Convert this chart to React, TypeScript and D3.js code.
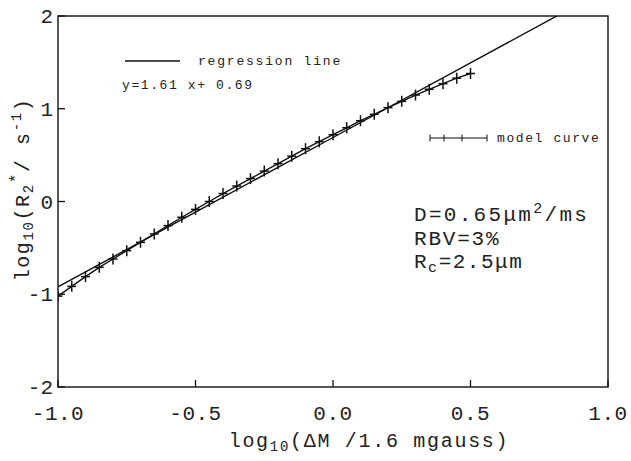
import React from "react";
import * as d3 from "d3";

const modelX = [-1.0, -0.95, -0.9, -0.85, -0.8, -0.75, -0.7, -0.65, -0.6, -0.55, -0.5, -0.45, -0.4, -0.35, -0.3, -0.25, -0.2, -0.15, -0.1, -0.05, 0.0, 0.05, 0.1, 0.15, 0.2, 0.25, 0.3, 0.35, 0.4, 0.45, 0.5];
const modelY = [-1.02, -0.915, -0.81, -0.71, -0.62, -0.53, -0.44, -0.35, -0.26, -0.17, -0.085, 0.0, 0.086, 0.167, 0.247, 0.328, 0.408, 0.489, 0.569, 0.645, 0.72, 0.795, 0.871, 0.94, 1.012, 1.08, 1.148, 1.21, 1.27, 1.33, 1.38];
const regSlope = 1.61;
const regIntercept = 0.69;
const xTicks = [-1.0, -0.5, 0.0, 0.5, 1.0];
const xTickLabels = ["-1.0", "-0.5", "0.0", "0.5", "1.0"];
const yTicks = [-2, -1, 0, 1, 2];
const yTickLabels = ["-2", "-1", "0", "1", "2"];

const W = 631, H = 461;
const L = 58, R = 608, T = 16, B = 387;
const FONT = "'Liberation Mono', 'DejaVu Sans Mono', monospace";

export default function App() {
  const x = d3.scaleLinear().domain([-1, 1]).range([L, R]);
  const y = d3.scaleLinear().domain([-2, 2]).range([B, T]);
  const line = d3.line<number>().x((_, i) => x(modelX[i])).y((d) => y(d));
  const regX = d3.range(-1, 1.0001, 0.5);
  const regLine = d3.line<number>().x((d) => x(d)).y((d) => y(regSlope * d + regIntercept));
  const col = "#111";
  const tcol = "#222";
  return (
    <svg width={W} height={H} style={{ position: "absolute", left: 0, top: 0, background: "#fff" }}>
      <defs>
        <clipPath id="plot">
          <rect x={L} y={T} width={R - L} height={B - T} />
        </clipPath>
      </defs>
      <rect x={0} y={0} width={W} height={H} fill="#fff" />
      <rect x={L} y={T} width={R - L} height={B - T} fill="none" stroke={col} strokeWidth={1.4} />
      {xTicks.map((t, i) => (
        <g key={"xt" + i}>
          <line x1={x(t)} x2={x(t)} y1={B} y2={B - 7} stroke={col} strokeWidth={1.3} />
          <text x={x(t)} y={420} textAnchor="middle" fontFamily={FONT} fontSize={21} letterSpacing={0.5} fill={tcol}>{xTickLabels[i]}</text>
        </g>
      ))}
      {yTicks.map((t, i) => (
        <g key={"yt" + i}>
          <line x1={L} x2={L + 7} y1={y(t)} y2={y(t)} stroke={col} strokeWidth={1.3} />
          <text x={53} y={y(t) + 7} textAnchor="end" fontFamily={FONT} fontSize={21} fill={tcol}>{yTickLabels[i]}</text>
        </g>
      ))}
      <g clipPath="url(#plot)">
        <path d={regLine(regX) || ""} fill="none" stroke={col} strokeWidth={1.4} />
        <path d={line(modelY) || ""} fill="none" stroke={col} strokeWidth={1.4} />
        {modelY.map((v, i) => (
          <g key={"m" + i}>
            <line x1={x(modelX[i]) - 4.5} x2={x(modelX[i]) + 4.5} y1={y(v)} y2={y(v)} stroke={col} strokeWidth={1.5} />
            <line x1={x(modelX[i])} x2={x(modelX[i])} y1={y(v) - 5.5} y2={y(v) + 5.5} stroke={col} strokeWidth={1.5} />
          </g>
        ))}
      </g>
      {/* legend */}
      <line x1={125} x2={180} y1={61} y2={61} stroke={col} strokeWidth={1.4} />
      <text x={198} y={65} fontFamily={FONT} fontSize={13} letterSpacing={1.8} fill={tcol}>regression line</text>
      <text x={122} y={89} fontFamily={FONT} fontSize={13} letterSpacing={1.6} fill={tcol}>y=1.61 x+ 0.69</text>
      <line x1={430} x2={487} y1={138} y2={138} stroke={col} strokeWidth={1.2} />
      {[430, 444, 462, 487].map((px, i) => (
        <line key={"lt" + i} x1={px} x2={px} y1={134.5} y2={141.5} stroke={col} strokeWidth={1} />
      ))}
      <text x={497} y={142} fontFamily={FONT} fontSize={13} letterSpacing={1.6} fill={tcol}>model curve</text>
      <text x={414} y={221} fontFamily={FONT} fontSize={21} letterSpacing={2.3} fill={tcol}>
        D=0.65μm<tspan dy={-8} fontSize={15}>2</tspan><tspan dy={8}>/ms</tspan>
      </text>
      <text x={414} y={245} fontFamily={FONT} fontSize={21} letterSpacing={1.8} fill={tcol}>RBV=3%</text>
      <text x={414} y={268} fontFamily={FONT} fontSize={21} letterSpacing={1.5} fill={tcol}>
        R<tspan dy={4} fontSize={15}>c</tspan><tspan dy={-4}>=2.5μm</tspan>
      </text>
      {/* x axis label */}
      <text x={(L + R) / 2 + 36} y={447} textAnchor="middle" fontFamily={FONT} fontSize={20} letterSpacing={1.7} fill={tcol}>
        log<tspan dy={4} fontSize={14}>10</tspan><tspan dy={-4}>(ΔM /1.6 mgauss)</tspan>
      </text>
      {/* y axis label */}
      <text transform={`translate(29, ${(T + B) / 2 - 12}) rotate(-90)`} textAnchor="middle" fontFamily={FONT} fontSize={20} letterSpacing={1.6} fill={tcol}>
        log<tspan dy={4} fontSize={14}>10</tspan><tspan dy={-4}>(R</tspan><tspan dy={4} fontSize={14}>2</tspan><tspan dy={-12} fontSize={16}>*</tspan><tspan dy={8}>/ s</tspan><tspan dy={-8} fontSize={14}>-1</tspan><tspan dy={8}>)</tspan>
      </text>
    </svg>
  );
}
